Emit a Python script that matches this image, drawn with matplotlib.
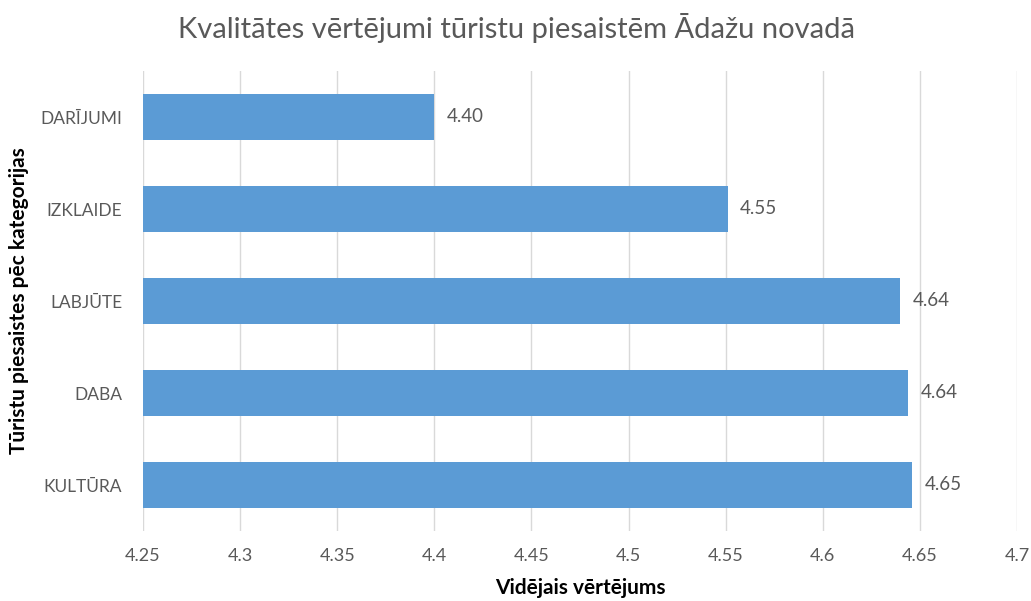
import matplotlib
matplotlib.use("Agg")
import matplotlib.pyplot as plt

categories = ["DARĪJUMI", "IZKLAIDE", "LABJŪTE", "DABA", "KULTŪRA"]
values = [4.40, 4.551, 4.640, 4.644, 4.646]
xticks = [4.25, 4.3, 4.35, 4.4, 4.45, 4.5, 4.55, 4.6, 4.65, 4.7]
xtick_labels = ["4.25", "4.3", "4.35", "4.4", "4.45", "4.5", "4.55", "4.6", "4.65", "4.7"]

plt.rcParams['font.family'] = ['Lato', 'DejaVu Sans']
txt = "#595959"

fig = plt.figure(figsize=(10.31, 6.01), dpi=100)
ax = fig.add_axes([143/1031, 1-531/601, (1017-143)/1031, 460/601])

ypos = list(range(len(categories)))[::-1]
ax.barh(ypos, values, height=0.5, left=0, color="#5B9BD5", zorder=3)
for y, v in zip(ypos, values):
    ax.text(v + 0.0065, y, f"{v:.2f}", va="center", ha="left", color=txt, fontsize=13.5)

ax.set_xlim(4.25, 4.7)
ax.set_ylim(-0.5, len(categories) - 0.5)
ax.set_xticks(xticks)
ax.set_xticklabels(xtick_labels, color=txt, fontsize=13)
ax.set_yticks(ypos)
ax.set_yticklabels(categories, color=txt, fontsize=12.5)
ax.tick_params(axis="x", length=0, pad=12)
ax.tick_params(axis="y", length=0, pad=15)
ax.grid(axis="x", color="#D9D9D9", linewidth=1, zorder=0)
for s in ax.spines.values():
    s.set_visible(False)

ax.set_xlabel("Vidējais vērtējums", fontsize=15, fontweight="bold", color="black", labelpad=10)
ax.set_ylabel("Tūristu piesaistes pēc kategorijas", fontsize=15, fontweight="bold", color="black", labelpad=8)
fig.text(516/1031, 1-28/601, "Kvalitātes vērtējumi tūristu piesaistēm Ādažu novadā",
         ha="center", va="center", fontsize=21, color=txt)

fig.savefig("out.png", dpi=100)
